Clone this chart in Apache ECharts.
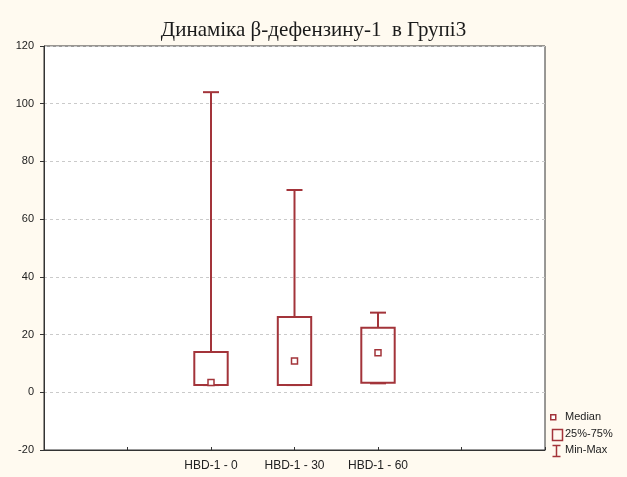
<!DOCTYPE html>
<html>
<head>
<meta charset="utf-8">
<script src="https://cdn.jsdelivr.net/npm/echarts@6/dist/echarts.min.js"></script>
<style>
  html, body { margin: 0; padding: 0; background: #fffaf0; }
  #chart { width: 627px; height: 477px; }
</style>
</head>
<body>
<div id="chart"></div>
<script>
// Groups and their positions on the horizontal value axis (0..6)
const categories = ['HBD-1 - 0', 'HBD-1 - 30', 'HBD-1 - 60'];
const positions = [2, 3, 4];
// Box statistics per group
const mins    = [2.5, 2.5, 3.1];
const q1s     = [2.5, 2.5, 3.3];
const medians = [3.4, 10.8, 13.7];
const q3s     = [14.0, 26.1, 22.4];
const maxs    = [104.0, 70.1, 27.6];
// Y axis ticks
const yMin = -20, yMax = 120, yStep = 20;

const RED = '#a3343a';

const boxData = positions.map((p, i) => [p, mins[i], q1s[i], medians[i], q3s[i], maxs[i]]);
const medianData = positions.map((p, i) => [p, medians[i]]);

const chart = echarts.init(document.getElementById('chart'), null, { renderer: 'canvas' });

chart.setOption({
  backgroundColor: '#fffaf0',
  animation: false,
  title: {
    text: 'Динаміка β-дефензину-1  в Групі3',
    left: 'center',
    top: 15,
    textStyle: { fontFamily: 'Liberation Serif', fontSize: 21, fontWeight: 'normal', color: '#1a1a1a' }
  },
  grid: {
    left: 44, right: 82, top: 46, bottom: 27,
    show: true, backgroundColor: '#ffffff', borderColor: '#333', borderWidth: 1
  },
  xAxis: {
    type: 'value', min: 0, max: 6, interval: 1,
    axisLine: { show: true, onZero: false, lineStyle: { color: '#333', width: 1 } },
    axisTick: { show: true, inside: true, length: 3, lineStyle: { color: '#333' } },
    splitLine: { show: false },
    axisLabel: {
      fontFamily: 'Liberation Sans', fontSize: 12, color: '#222', margin: 10,
      formatter: v => { const k = positions.indexOf(v); return k >= 0 ? categories[k] : ''; }
    }
  },
  yAxis: {
    type: 'value', min: yMin, max: yMax, interval: yStep,
    axisLine: { show: true, onZero: false, lineStyle: { color: '#333', width: 1 } },
    axisTick: { show: true, inside: false, length: 4, lineStyle: { color: '#333' } },
    splitLine: { show: true, lineStyle: { color: '#cacaca', type: [3, 3], width: 1 } },
    axisLabel: { fontFamily: 'Liberation Sans', fontSize: 11, color: '#222', margin: 10 }
  },
  series: [
    {
      name: 'Min-Max / 25%-75%',
      type: 'custom',
      data: boxData,
      encode: { x: 0, y: [1, 2, 3, 4, 5] },
      renderItem: (params, api) => {
        const x = api.value(0);
        const pMin = api.coord([x, api.value(1)]);
        const pQ1 = api.coord([x, api.value(2)]);
        const pQ3 = api.coord([x, api.value(4)]);
        const pMax = api.coord([x, api.value(5)]);
        const halfBox = api.size([0.4, 0])[0] / 2;
        const halfCap = 8;
        const cx = pQ1[0];
        const line = { stroke: RED, lineWidth: 2 };
        const children = [
          { type: 'line', shape: { x1: cx, y1: pQ3[1], x2: cx, y2: pMax[1] }, style: line },
          { type: 'line', shape: { x1: cx - halfCap, y1: pMax[1], x2: cx + halfCap, y2: pMax[1] }, style: line },
          { type: 'line', shape: { x1: cx, y1: pQ1[1], x2: cx, y2: pMin[1] }, style: line },
          { type: 'line', shape: { x1: cx - halfCap, y1: pMin[1], x2: cx + halfCap, y2: pMin[1] }, style: line },
          { type: 'rect', shape: { x: cx - halfBox, y: pQ3[1], width: 2 * halfBox, height: pQ1[1] - pQ3[1] },
            style: { fill: 'none', stroke: RED, lineWidth: 2 } }
        ];
        return { type: 'group', children };
      }
    },
    {
      name: 'Median',
      type: 'custom',
      data: medianData,
      renderItem: (params, api) => {
        const p = api.coord([api.value(0), api.value(1)]);
        return { type: 'rect', shape: { x: p[0] - 3, y: p[1] - 3, width: 6, height: 6 },
          style: { fill: '#fff', stroke: RED, lineWidth: 1.5 } };
      }
    }
  ],
  graphic: [
    // legend: median marker
    { type: 'rect', left: 550, top: 414, shape: { width: 5, height: 5 }, style: { fill: '#fff', stroke: RED, lineWidth: 1.5 } },
    { type: 'text', left: 565, top: 411, style: { text: 'Median', fontFamily: 'Liberation Sans', fontSize: 11, fill: '#222' } },
    // legend: box marker
    { type: 'rect', left: 550, top: 427, shape: { width: 10, height: 11 }, style: { fill: 'none', stroke: RED, lineWidth: 1.5 } },
    { type: 'text', left: 565, top: 428, style: { text: '25%-75%', fontFamily: 'Liberation Sans', fontSize: 11, fill: '#222' } },
    // legend: whisker marker
    { type: 'group', left: 550, top: 443, children: [
      { type: 'line', shape: { x1: 0, y1: 0, x2: 8, y2: 0 }, style: { stroke: RED, lineWidth: 1.5 } },
      { type: 'line', shape: { x1: 4, y1: 0, x2: 4, y2: 11 }, style: { stroke: RED, lineWidth: 1.5 } },
      { type: 'line', shape: { x1: 0, y1: 11, x2: 8, y2: 11 }, style: { stroke: RED, lineWidth: 1.5 } }
    ] },
    { type: 'text', left: 565, top: 444, style: { text: 'Min-Max', fontFamily: 'Liberation Sans', fontSize: 11, fill: '#222' } }
  ]
});
</script>
</body>
</html>
